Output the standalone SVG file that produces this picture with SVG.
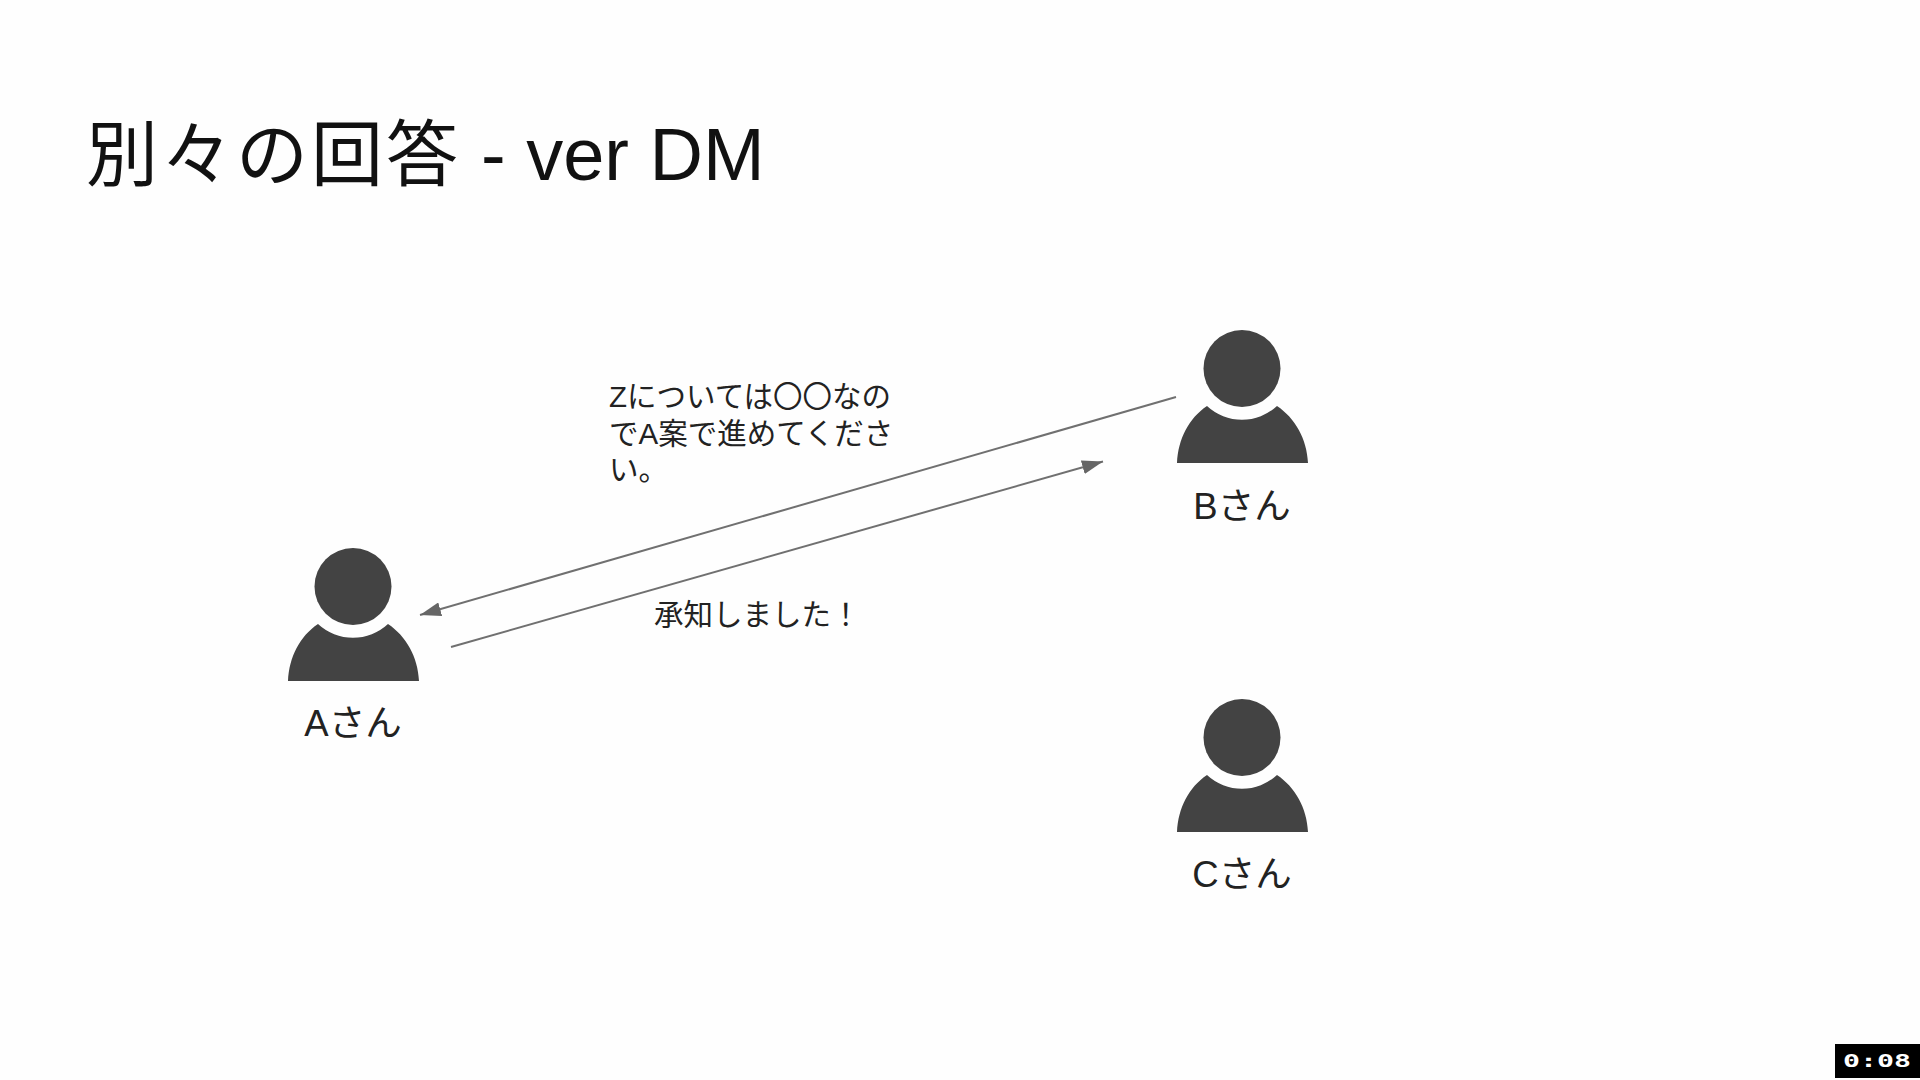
<svg xmlns="http://www.w3.org/2000/svg" width="1920" height="1080" viewBox="0 0 1920 1080">
<style>
text{font-family:"Liberation Sans","Noto Sans CJK JP",sans-serif;fill:#222}
.title{font-size:74px;fill:#111}
.title .cjk{font-size:72px}
.name{font-size:36.5px;text-anchor:middle}
.msg{font-size:29.5px}
.conn{stroke:#707070;stroke-width:2;fill:none}
.person{fill:#434343}
.time{font-family:"DejaVu Sans Mono",monospace;font-weight:700;font-size:17px;fill:#fff}
</style>
<defs>
<marker id="arrow" markerUnits="userSpaceOnUse" markerWidth="22" markerHeight="14" refX="21" refY="7" orient="auto"><path d="M0 0L21 7L0 14Z" fill="#666"/></marker>
<g id="person"><circle cx="353" cy="586.5" r="38.5"/><path d="M288 681C289 657 300 636 318 624A51.5 51.5 0 0 0 388 624C406 636 418 657 419 681Z"/></g>
</defs>
<rect width="1920" height="1080" fill="#fefefe"/>
<text class="title" y="180"><tspan class="cjk" x="86">別</tspan><tspan class="cjk" x="161">々</tspan><tspan class="cjk" x="236">の</tspan><tspan class="cjk" x="311">回</tspan><tspan class="cjk" x="386">答</tspan><tspan x="481">- ver DM</tspan></text>
<g id="connectors">
<line class="conn" x1="1176" y1="397" x2="420" y2="615" marker-end="url(#arrow)"/>
<line class="conn" x1="451" y1="647" x2="1103" y2="461.5" marker-end="url(#arrow)"/>
</g>
<g id="node-a" class="person"><use href="#person"/><text class="name" x="353" y="736">Aさん</text></g>
<g id="node-b" class="person"><use href="#person" transform="translate(889 -218)"/><text class="name" x="1242" y="519">Bさん</text></g>
<g id="node-c" class="person"><use href="#person" transform="translate(889 151)"/><text class="name" x="1242" y="887">Cさん</text></g>
<g id="label-request"><text class="msg" x="609" y="407">Zについては〇〇なの</text><text class="msg" x="609" y="444">でA案で進めてくださ</text><text class="msg" x="609" y="480">い。</text></g>
<g id="label-reply"><text class="msg" x="654" y="625">承知しました！</text></g>
<g id="timestamp"><rect x="1835" y="1044" width="85" height="34" fill="#000"/><text class="time" x="1843" y="1067" textLength="68" lengthAdjust="spacingAndGlyphs">0:08</text></g>
</svg>
